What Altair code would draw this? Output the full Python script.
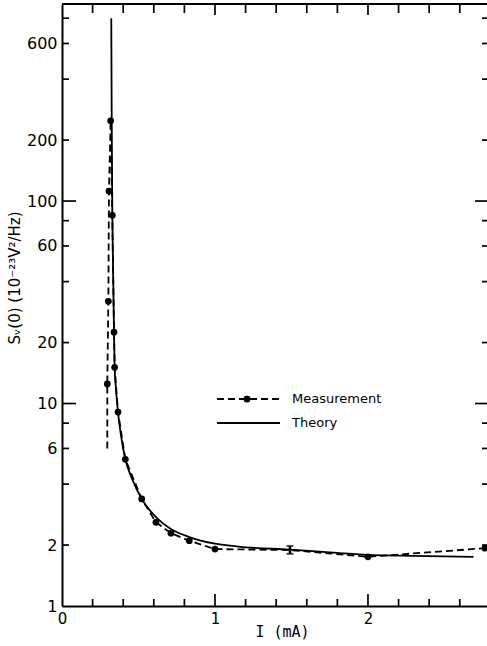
import altair as alt
import pandas as pd

# Measured spectral density S_V(0) versus bias current I (mA)
meas_I = [0.318, 0.307, 0.329, 0.303, 0.340, 0.344, 0.296, 0.366, 0.414,
          0.521, 0.614, 0.712, 0.832, 1.0, 2.0, 2.765]
meas_S = [249, 112, 85, 32, 22.5, 15.1, 12.5, 9.08, 5.30,
          3.38, 2.59, 2.29, 2.10, 1.91, 1.75, 1.93]

# Dashed curve through the measurements, in drawing order
path_I = [0.296, 0.296, 0.303, 0.307, 0.318, 0.329, 0.340, 0.344, 0.366,
          0.414, 0.521, 0.614, 0.712, 0.832, 1.0, 1.49, 2.0, 2.765]
path_S = [6.0, 12.5, 32, 112, 249, 85, 22.5, 15.1, 9.08,
          5.30, 3.38, 2.59, 2.29, 2.10, 1.91, 1.89, 1.75, 1.93]

# Theoretical curve
theory_I = [0.322, 0.325, 0.329, 0.334, 0.340, 0.344, 0.352, 0.366, 0.385,
            0.414, 0.455, 0.521, 0.614, 0.712, 0.832, 1.0, 1.2, 1.49,
            1.75, 2.0, 2.3, 2.69]
theory_S = [800, 250, 85, 45, 22.5, 15.1, 12.0, 9.08, 7.0,
            5.30, 4.3, 3.38, 2.75, 2.40, 2.19, 2.03, 1.95, 1.90,
            1.84, 1.79, 1.77, 1.75]

# Error bar on the point at 1.5 mA
err_I = [1.49]
err_lo = [1.81]
err_hi = [1.98]

# Axis ticks and labels
x_labels = [0, 1, 2]
x_minor = [0.2, 0.4, 0.6, 0.8, 1.2, 1.4, 1.6, 1.8, 2.2, 2.4, 2.6]
x_major = [1, 2]
y_labels = [1, 2, 6, 10, 20, 60, 100, 200, 600]
y_minor = [2, 4, 6, 8, 20, 40, 60, 80, 200, 400, 600, 800]
y_major = [10, 100]

W, H = 425, 602
FONT = "DejaVu Sans"
LW = 1.8

xs = alt.Scale(domain=[0, 2.778], nice=False, zero=False)
ys = alt.Scale(type="log", domain=[1, 940], nice=False)

x_axis = alt.Axis(values=x_labels, format="d", ticks=False, grid=False,
                  domainColor="black", domainWidth=2,
                  labelFont=FONT, labelFontSize=15, labelColor="black",
                  labelPadding=5, labelFlush=False, labelOverlap=False,
                  title="I (mA)", titleFont="DejaVu Sans Mono", titleFontSize=15,
                  titleFontWeight="normal", titleColor="black",
                  titleX=220, titleY=25, titleBaseline="middle", titleAlign="center")
y_axis = alt.Axis(values=y_labels, format="d", ticks=False, grid=False,
                  domainColor="black", domainWidth=2,
                  labelFont=FONT, labelFontSize=16, labelColor="black",
                  labelPadding=5, labelFlush=False, labelOverlap=False,
                  title=None)


def X(f):
    return alt.X(f"{f}:Q", scale=xs, axis=x_axis)


def Y(f):
    return alt.Y(f"{f}:Q", scale=ys, axis=y_axis)


meas_df = pd.DataFrame({"I": meas_I, "S": meas_S})
path_df = pd.DataFrame({"I": path_I, "S": path_S, "k": list(range(len(path_I)))})
theory_df = pd.DataFrame({"I": theory_I, "S": theory_S})
err_df = pd.DataFrame({"I": err_I, "lo": err_lo, "hi": err_hi})

theory = alt.Chart(theory_df).mark_line(
    color="black", strokeWidth=LW, interpolate="monotone", clip=True
).encode(x=X("I"), y=Y("S"))

dashed = alt.Chart(path_df).mark_line(
    color="black", strokeWidth=LW, strokeDash=[7, 4], clip=True
).encode(x=X("I"), y=Y("S"), order="k:Q")

dots = alt.Chart(meas_df).mark_circle(
    color="black", size=45, opacity=1, clip=True
).encode(x=X("I"), y=Y("S"))

err_bar = alt.Chart(err_df).mark_rule(color="black", strokeWidth=2.5).encode(
    x=X("I"), y=Y("lo"), y2="hi:Q")
err_cap_lo = alt.Chart(err_df).mark_tick(
    color="black", orient="horizontal", size=7, thickness=2
).encode(x=X("I"), y=Y("lo"))
err_cap_hi = alt.Chart(err_df).mark_tick(
    color="black", orient="horizontal", size=7, thickness=2
).encode(x=X("I"), y=Y("hi"))

# Inward tick marks on all four sides
yminor_df = pd.DataFrame({"v": y_minor})
ymajor_df = pd.DataFrame({"v": y_major})
xminor_df = pd.DataFrame({"v": x_minor})
xmajor_df = pd.DataFrame({"v": x_major})

tick_style = dict(color="black", strokeWidth=1.7)
left_minor = alt.Chart(yminor_df).mark_rule(**tick_style).encode(
    y=Y("v"), x=alt.value(0), x2=alt.value(7))
left_major = alt.Chart(ymajor_df).mark_rule(**tick_style).encode(
    y=Y("v"), x=alt.value(0), x2=alt.value(14))
right_minor = alt.Chart(yminor_df).mark_rule(**tick_style).encode(
    y=Y("v"), x=alt.value(W + 2), x2=alt.value(W - 5))
right_major = alt.Chart(ymajor_df).mark_rule(**tick_style).encode(
    y=Y("v"), x=alt.value(W + 2), x2=alt.value(W - 12))
bottom_minor = alt.Chart(xminor_df).mark_rule(**tick_style).encode(
    x=X("v"), y=alt.value(H), y2=alt.value(H - 7))
bottom_major = alt.Chart(xmajor_df).mark_rule(**tick_style).encode(
    x=X("v"), y=alt.value(H), y2=alt.value(H - 12))
top_minor = alt.Chart(xminor_df).mark_rule(**tick_style).encode(
    x=X("v"), y=alt.value(0), y2=alt.value(9))
top_major = alt.Chart(xmajor_df).mark_rule(**tick_style).encode(
    x=X("v"), y=alt.value(0), y2=alt.value(11))
top_frame = alt.Chart(xmajor_df).mark_rule(color="black", strokeWidth=2).encode(
    x=alt.value(0), x2=alt.value(W + 2), y=alt.value(0))

# Y axis title
y_title = alt.Chart(pd.DataFrame({"t": ["Sᵥ(0)  (10⁻²³V²/Hz)"]})).mark_text(
    angle=270, font=FONT, fontSize=15, color="black", align="center", baseline="middle"
).encode(x=alt.value(-47), y=alt.value(274), text="t:N")

# Legend
legend_text = pd.DataFrame({"t": ["Measurement", "Theory"]})
leg_meas_line = alt.Chart(legend_text).mark_rule(
    color="black", strokeWidth=LW, strokeDash=[7, 4]
).encode(x=alt.value(155), x2=alt.value(217), y=alt.value(395))
leg_meas_dot = alt.Chart(legend_text).mark_circle(
    color="black", size=45, opacity=1
).encode(x=alt.value(185), y=alt.value(395))
leg_theory_line = alt.Chart(legend_text).mark_rule(
    color="black", strokeWidth=LW
).encode(x=alt.value(155), x2=alt.value(218), y=alt.value(419))
leg_meas_text = alt.Chart(legend_text).transform_filter(
    alt.datum.t == "Measurement"
).mark_text(font=FONT, fontSize=13, color="black", align="left", baseline="middle").encode(
    x=alt.value(230), y=alt.value(395), text="t:N")
leg_theory_text = alt.Chart(legend_text).transform_filter(
    alt.datum.t == "Theory"
).mark_text(font=FONT, fontSize=13, color="black", align="left", baseline="middle").encode(
    x=alt.value(230), y=alt.value(419), text="t:N")

chart = alt.layer(
    theory, dashed, dots, err_bar, err_cap_lo, err_cap_hi,
    left_minor, left_major, right_minor, right_major,
    bottom_minor, bottom_major, top_minor, top_major, top_frame,
    y_title, leg_meas_line, leg_meas_dot, leg_theory_line,
    leg_meas_text, leg_theory_text,
).properties(
    width=W, height=H,
    padding={"left": 62, "top": 4, "right": 0, "bottom": 40},
    autosize="none",
    background="white",
).configure_view(stroke=None)

chart.save("out.html", embed_options={"renderer": "svg", "actions": False})
